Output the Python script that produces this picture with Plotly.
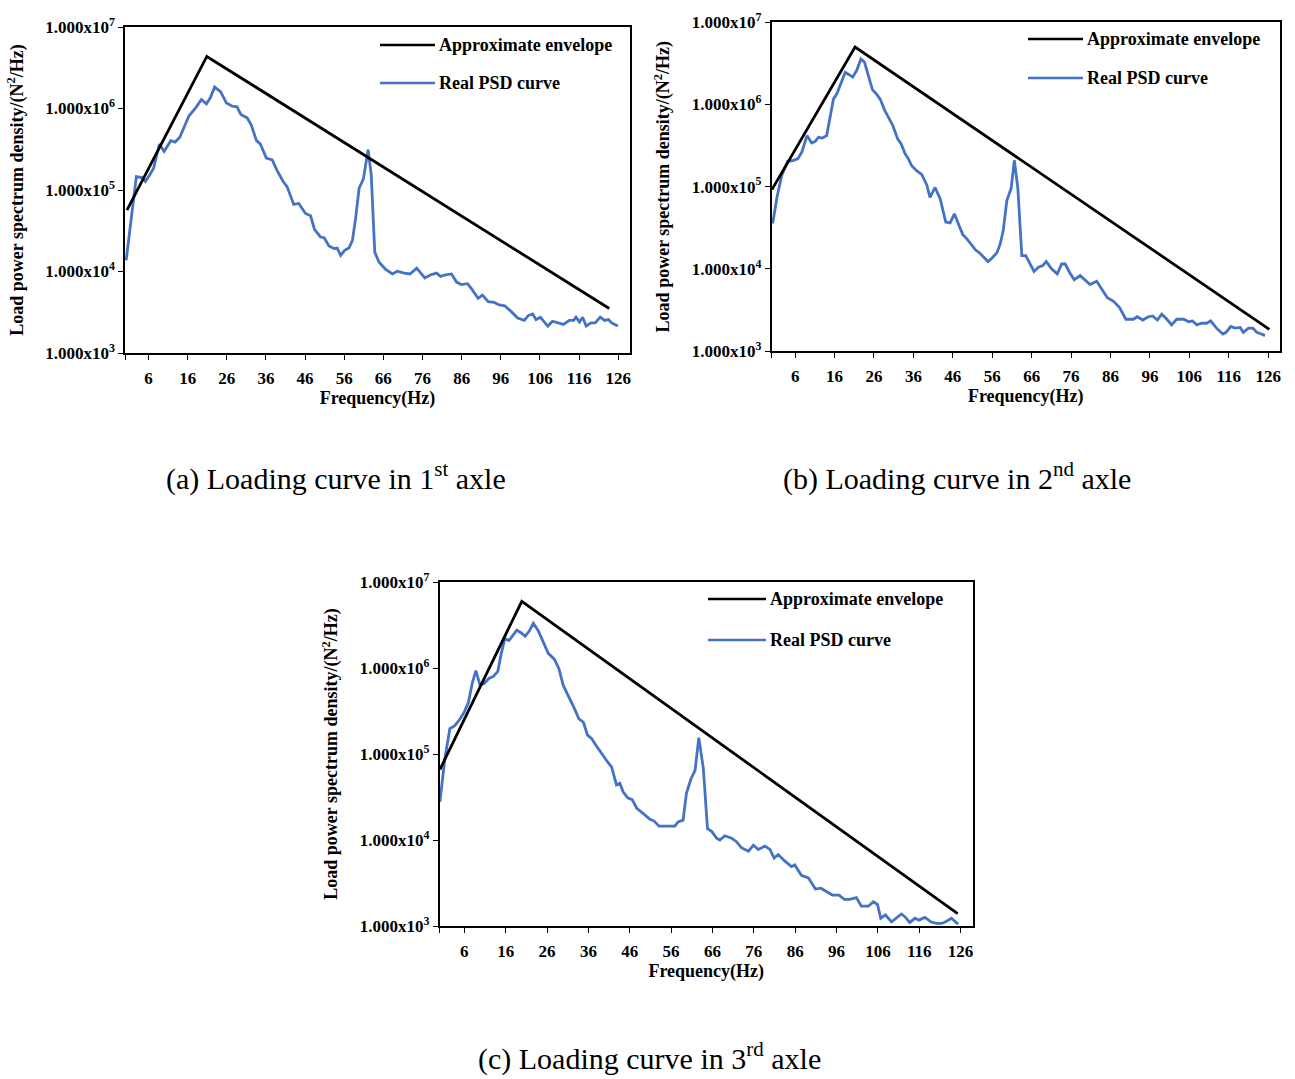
import plotly.graph_objects as go

# ---------------- data: load PSD per axle ----------------
# axle 1
freq_a = [0.3, 2.9, 4.3, 5.2, 6.3, 7.3, 8.8, 10.0, 11.7, 12.8, 14.0, 15.4, 16.3, 18.2, 19.5,
          20.8, 21.8, 22.9, 24.4, 25.9, 27.4, 28.6, 29.6, 31.2, 32.2, 33.6, 34.6, 36.1, 37.6,
          38.9, 40.4, 41.4, 43.1, 44.4, 46.1, 47.4, 48.4, 49.9, 50.9, 52.1, 53.4, 54.2, 55.1,
          56.1, 57.2, 58.1, 58.9, 59.8, 60.9, 62.1, 62.9, 63.8, 64.9, 66.6, 68.3, 69.6, 71.3,
          72.8, 74.5, 76.6, 78.1, 79.6, 80.6, 81.9, 83.4, 84.7, 85.9, 87.5, 88.5, 90.2, 91.3,
          92.8, 94.3, 95.6, 97.0, 98.6, 100.3, 102.0, 103.0, 104.1, 105.0, 106.1, 108.0, 109.2,
          110.5, 112.0, 113.5, 114.6, 115.2, 116.1, 116.9, 117.8, 119.0, 120.1, 121.4, 122.5,
          123.5, 124.3, 125.9]
psd_a = [1.37e4, 1.46e5, 1.42e5, 1.27e5, 1.53e5, 1.85e5, 3.66e5, 2.97e5, 4.03e5, 3.87e5, 4.43e5,
         6.47e5, 8.04e5, 1.04e6, 1.29e6, 1.14e6, 1.35e6, 1.83e6, 1.61e6, 1.17e6, 1.07e6, 1.05e6,
         8.43e5, 7.67e5, 6.35e5, 4.03e5, 3.66e5, 2.46e5, 2.34e5, 1.72e5, 1.27e5, 1.10e5, 6.65e4,
         6.84e4, 5.15e4, 4.82e4, 3.30e4, 2.66e4, 2.58e4, 2.06e4, 1.91e4, 1.94e4, 1.58e4, 1.82e4,
         1.94e4, 2.41e4, 4.47e4, 1.05e5, 1.37e5, 3.12e5, 1.53e5, 1.73e4, 1.30e4, 1.06e4, 9.35e3,
         1.01e4, 9.55e3, 9.33e3, 1.10e4, 8.32e3, 9.12e3, 9.55e3, 8.71e3, 9.12e3, 9.33e3, 7.41e3,
         6.92e3, 7.08e3, 6.17e3, 4.68e3, 5.13e3, 4.27e3, 4.17e3, 3.89e3, 3.80e3, 3.24e3, 2.69e3,
         2.51e3, 2.88e3, 3.02e3, 2.57e3, 2.75e3, 2.14e3, 2.45e3, 2.34e3, 2.24e3, 2.51e3, 2.51e3,
         2.75e3, 2.40e3, 2.75e3, 2.14e3, 2.34e3, 2.34e3, 2.75e3, 2.51e3, 2.57e3, 2.34e3, 2.14e3]
env_freq_a = [0.5, 20.9, 123.7]
env_psd_a = [5.66e4, 4.35e6, 3.52e3]

# axle 2
freq_b = [0.3, 1.4, 2.6, 4.1, 5.6, 6.7, 7.7, 9.0, 10.2, 11.1, 11.9, 12.9, 14.0, 14.9, 15.7,
          16.6, 17.7, 18.7, 19.7, 20.6, 21.6, 22.7, 23.6, 24.6, 25.6, 26.7, 27.6, 28.7, 29.8,
          30.8, 32.0, 32.9, 33.9, 34.7, 35.6, 36.9, 38.1, 39.4, 40.2, 41.5, 42.8, 44.2, 45.3,
          46.4, 47.4, 48.5, 49.5, 50.6, 51.8, 52.9, 53.8, 54.9, 55.9, 57.2, 58.0, 58.8, 59.7,
          60.8, 61.6, 62.5, 63.5, 64.5, 66.6, 67.7, 68.8, 69.7, 71.1, 72.5, 73.6, 74.5, 75.6,
          76.8, 78.3, 79.8, 80.8, 82.5, 83.8, 85.2, 86.7, 88.3, 89.9, 91.8, 92.8, 94.2, 95.6,
          96.7, 97.9, 99.0, 100.3, 101.5, 102.8, 104.6, 105.8, 106.8, 107.9, 109.1, 110.4,
          111.4, 112.9, 114.5, 115.3, 116.5, 117.6, 118.9, 119.7, 121.0, 122.1, 123.1, 124.3,
          125.2]
psd_b = [3.56e4, 7.48e4, 1.37e5, 2.03e5, 2.09e5, 2.19e5, 2.63e5, 4.17e5, 3.39e5, 3.55e5, 3.98e5,
         3.89e5, 4.17e5, 6.76e5, 1.15e6, 1.35e6, 1.86e6, 2.45e6, 2.29e6, 2.14e6, 2.57e6, 3.55e6,
         3.24e6, 2.24e6, 1.51e6, 1.32e6, 1.15e6, 8.51e5, 6.76e5, 5.50e5, 3.80e5, 3.31e5, 2.51e5,
         2.19e5, 1.78e5, 1.55e5, 1.41e5, 1.05e5, 7.41e4, 9.77e4, 7.08e4, 3.72e4, 3.63e4, 4.68e4,
         3.55e4, 2.63e4, 2.34e4, 2.00e4, 1.70e4, 1.55e4, 1.41e4, 1.23e4, 1.35e4, 1.58e4, 2.00e4,
         2.95e4, 6.76e4, 9.55e4, 2.09e5, 9.55e4, 1.45e4, 1.45e4, 9.33e3, 1.05e4, 1.10e4, 1.23e4,
         1.00e4, 8.71e3, 1.15e4, 1.15e4, 9.12e3, 7.41e3, 8.32e3, 7.08e3, 6.46e3, 7.08e3, 5.75e3,
         4.47e3, 4.07e3, 3.39e3, 2.45e3, 2.45e3, 2.63e3, 2.40e3, 2.63e3, 2.69e3, 2.40e3, 2.82e3,
         2.45e3, 2.09e3, 2.45e3, 2.45e3, 2.29e3, 2.34e3, 2.09e3, 2.19e3, 2.19e3, 2.34e3, 1.91e3,
         1.62e3, 1.70e3, 2.00e3, 1.91e3, 1.95e3, 1.70e3, 1.91e3, 1.91e3, 1.70e3, 1.62e3, 1.55e3]
env_freq_b = [0.1, 21.2, 126.3]
env_psd_b = [9.2e4, 4.97e6, 1.85e3]

# axle 3
freq_c = [0.1, 1.3, 2.5, 3.7, 5.0, 6.0, 7.0, 7.9, 8.8, 9.8, 10.8, 12.0, 13.0, 14.1, 14.9, 15.8,
          16.8, 18.7, 19.7, 20.7, 21.7, 22.7, 23.9, 25.1, 26.3, 27.8, 28.9, 29.9, 31.0, 31.8,
          32.8, 33.7, 34.8, 35.8, 36.8, 37.7, 38.8, 39.6, 40.6, 41.6, 42.8, 43.6, 44.4, 45.5,
          46.6, 47.7, 48.7, 49.8, 50.9, 51.9, 53.1, 54.5, 55.7, 56.9, 57.7, 58.9, 59.7, 60.8,
          61.8, 62.7, 63.8, 64.8, 65.8, 67.0, 67.8, 69.0, 70.6, 71.8, 73.0, 74.7, 75.9, 77.1,
          78.7, 79.9, 80.9, 81.9, 83.4, 85.1, 85.9, 87.5, 89.2, 90.9, 92.2, 93.6, 95.0, 96.6,
          97.9, 99.2, 100.8, 102.0, 103.7, 104.9, 105.9, 106.7, 107.8, 109.3, 110.5, 111.7,
          112.7, 113.7, 115.0, 115.9, 117.4, 118.8, 120.2, 121.4, 122.4, 123.8, 125.4]
psd_c = [2.77e4, 8.83e4, 1.97e5, 2.14e5, 2.57e5, 3.09e5, 3.98e5, 6.61e5, 9.33e5, 6.31e5, 6.61e5,
         7.59e5, 7.94e5, 9.12e5, 1.45e6, 2.19e6, 2.09e6, 2.75e6, 2.57e6, 2.34e6, 2.69e6, 3.31e6,
         2.69e6, 2.00e6, 1.48e6, 1.26e6, 9.77e5, 6.31e5, 4.90e5, 4.17e5, 3.24e5, 2.57e5, 2.34e5,
         1.66e5, 1.51e5, 1.29e5, 1.10e5, 9.55e4, 8.13e4, 7.08e4, 4.37e4, 4.57e4, 3.63e4, 3.09e4,
         2.95e4, 2.34e4, 2.14e4, 1.95e4, 1.74e4, 1.66e4, 1.45e4, 1.45e4, 1.45e4, 1.45e4, 1.62e4,
         1.70e4, 3.47e4, 5.13e4, 6.46e4, 1.55e5, 6.76e4, 1.35e4, 1.26e4, 1.05e4, 1.00e4, 1.12e4,
         1.05e4, 9.55e3, 8.13e3, 7.41e3, 8.71e3, 7.76e3, 8.51e3, 7.76e3, 6.17e3, 6.76e3, 5.75e3,
         4.90e3, 5.13e3, 3.89e3, 3.63e3, 2.69e3, 2.75e3, 2.51e3, 2.29e3, 2.29e3, 2.04e3, 2.04e3,
         2.14e3, 1.70e3, 1.70e3, 1.91e3, 1.78e3, 1.23e3, 1.35e3, 1.12e3, 1.23e3, 1.38e3, 1.26e3,
         1.10e3, 1.23e3, 1.17e3, 1.26e3, 1.12e3, 1.07e3, 1.07e3, 1.12e3, 1.23e3, 1.05e3]
env_freq_c = [0.1, 19.9, 125.3]
env_psd_c = [6.6e4, 5.96e6, 1.39e3]

# axis ticks
x_tick_vals = [0, 6, 16, 26, 36, 46, 56, 66, 76, 86, 96, 106, 116, 126]
x_tick_text = [""] + [str(v) for v in x_tick_vals[1:]]
y_tick_vals = [1e3, 1e4, 1e5, 1e6, 1e7]
y_tick_text = ["1.000x10<sup>3</sup>", "1.000x10<sup>4</sup>", "1.000x10<sup>5</sup>",
               "1.000x10<sup>6</sup>", "1.000x10<sup>7</sup>"]

ENV_NAME = "Approximate envelope"
PSD_NAME = "Real PSD curve"
captions = ["(a) Loading curve in 1<sup>st</sup> axle",
            "(b) Loading curve in 2<sup>nd</sup> axle",
            "(c) Loading curve in 3<sup>rd</sup> axle"]

# ---------------- styling / layout ----------------
W, H = 1295, 1079
SERIF = "Liberation Serif"
ENV_COLOR = "#000000"
PSD_COLOR = "#4472C4"


def px_x(p):
    return p / W


def px_y(p):
    return 1 - p / H


# plot boxes in pixels: (left, right, top, bottom)
boxes = [(125, 630, 27, 353), (771.5, 1280, 22, 351.3), (439.5, 973, 582, 926)]
legend_pos = [(380, 435, 45, 83), (1028, 1083, 39, 78), (708, 766, 599, 640)]
caption_pos = [(336, 476), (957, 476), (649, 1056)]

panels = [(freq_a, psd_a, env_freq_a, env_psd_a),
          (freq_b, psd_b, env_freq_b, env_psd_b),
          (freq_c, psd_c, env_freq_c, env_psd_c)]

fig = go.Figure()
layout = dict(width=W, height=H, margin=dict(l=0, r=0, t=0, b=0, autoexpand=False),
              paper_bgcolor="white", plot_bgcolor="white", showlegend=False,
              font=dict(family=SERIF, color="black"))
shapes, annotations = [], []

for i, (f, p, ef, ep) in enumerate(panels):
    sfx = "" if i == 0 else str(i + 1)
    fig.add_trace(go.Scatter(x=f, y=p, mode="lines", name=PSD_NAME,
                             line=dict(color=PSD_COLOR, width=2.8),
                             xaxis="x" + sfx, yaxis="y" + sfx))
    fig.add_trace(go.Scatter(x=ef, y=ep, mode="lines", name=ENV_NAME,
                             line=dict(color=ENV_COLOR, width=2.8),
                             xaxis="x" + sfx, yaxis="y" + sfx))
    l, r, t, b = boxes[i]
    layout["xaxis" + sfx] = dict(
        domain=[px_x(l), px_x(r)], anchor="y" + sfx, range=[0, 129], automargin=False,
        showgrid=False, zeroline=False, showline=True, linecolor="black", linewidth=1.5,
        mirror=True, ticks="outside", ticklen=5, tickwidth=1.2, tickcolor="black",
        tickvals=x_tick_vals, ticktext=x_tick_text, ticklabelstandoff=4,
        tickfont=dict(family=SERIF, size=17, weight="bold"),
        title=dict(text="<b>Frequency(Hz)</b>", font=dict(family=SERIF, size=18), standoff=0))
    layout["yaxis" + sfx] = dict(
        domain=[px_y(b), px_y(t)], anchor="x" + sfx, type="log", range=[3, 7], automargin=False,
        showgrid=False, zeroline=False, showline=True, linecolor="black", linewidth=1.5,
        mirror=True, ticks="outside", ticklen=5, tickwidth=1.2, tickcolor="black",
        tickvals=y_tick_vals, ticktext=y_tick_text,
        tickfont=dict(family=SERIF, size=17, weight="bold"),
        title=dict(text="<b>Load power spectrum density/(N<sup>2</sup>/Hz)</b>",
                   font=dict(family=SERIF, size=18), standoff=17))

    # legend drawn as sample line + label in each panel
    lx0, lx1, ly_env, ly_psd = legend_pos[i]
    for ly, col, name in [(ly_env, ENV_COLOR, ENV_NAME), (ly_psd, PSD_COLOR, PSD_NAME)]:
        shapes.append(dict(type="line", xref="paper", yref="paper",
                           x0=px_x(lx0), x1=px_x(lx1), y0=px_y(ly), y1=px_y(ly),
                           line=dict(color=col, width=2.5)))
        annotations.append(dict(xref="paper", yref="paper", x=px_x(lx1 + 2), y=px_y(ly),
                                xanchor="left", yanchor="middle", showarrow=False,
                                text="<b>" + name + "</b>",
                                font=dict(family=SERIF, size=18, color="black")))

    cx, cy = caption_pos[i]
    annotations.append(dict(xref="paper", yref="paper", x=px_x(cx), y=px_y(cy),
                            xanchor="center", yanchor="middle", showarrow=False,
                            text=captions[i],
                            font=dict(family=SERIF, size=30, color="black")))

layout["shapes"] = shapes
layout["annotations"] = annotations
fig.update_layout(**layout)
fig.write_html("out.html")
